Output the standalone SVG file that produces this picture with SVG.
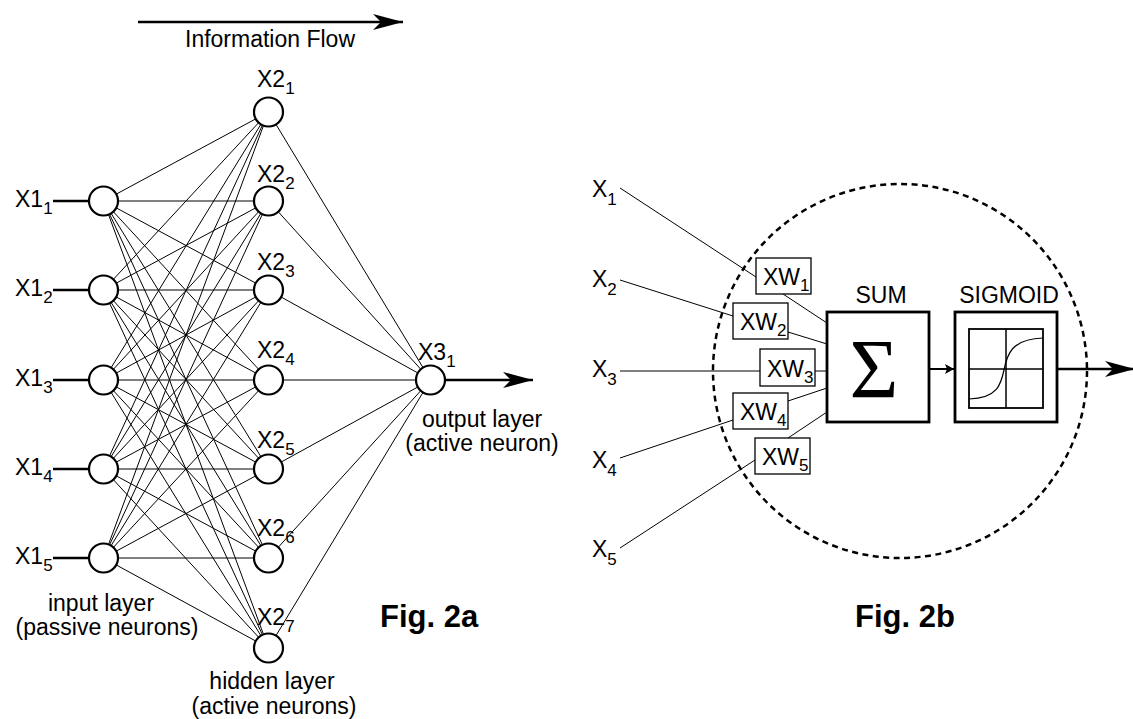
<svg xmlns="http://www.w3.org/2000/svg" width="1133" height="719" viewBox="0 0 1133 719">
<style>
text{font-family:"Liberation Sans",Arial,sans-serif;fill:#000;font-size:23px}
.sub{font-size:17px}
.fig{font-size:31px;font-weight:bold}
.nd{fill:#fff;stroke:#000;stroke-width:2.2}
.w{stroke:#000;stroke-width:1;fill:none}
.thick{stroke:#000;stroke-width:2.5;fill:none}
.box{fill:#fff;stroke:#000;stroke-width:1.3}
.big{fill:#fff;stroke:#000;stroke-width:2.8}
</style>
<defs>
<marker id="ah" markerUnits="userSpaceOnUse" markerWidth="32" markerHeight="18" refX="30" refY="8" orient="auto" viewBox="0 0 32 18">
<path d="M0,0 L30,8 L0,16 L8,8 Z" fill="#000"/>
</marker>
<marker id="ahs" markerUnits="userSpaceOnUse" markerWidth="12" markerHeight="12" refX="9" refY="5" orient="auto" viewBox="0 0 12 12">
<path d="M0,0 L9,5 L0,10 L2,5 Z" fill="#000"/>
</marker>
</defs>
<rect width="1133" height="719" fill="#fff"/>

<g id="info-flow">
<line x1="138" y1="22" x2="403" y2="22" class="thick" marker-end="url(#ah)"/>
<text x="185" y="47">Information Flow</text>
</g>

<g id="connectors-2a" class="w">
<g id="in-hid">
<line x1="103.5" y1="201" x2="268.5" y2="112"/><line x1="103.5" y1="201" x2="268.5" y2="201"/><line x1="103.5" y1="201" x2="268.5" y2="290"/><line x1="103.5" y1="201" x2="268.5" y2="380"/><line x1="103.5" y1="201" x2="268.5" y2="469"/><line x1="103.5" y1="201" x2="268.5" y2="558"/><line x1="103.5" y1="201" x2="268.5" y2="648"/>
<line x1="103.5" y1="290" x2="268.5" y2="112"/><line x1="103.5" y1="290" x2="268.5" y2="201"/><line x1="103.5" y1="290" x2="268.5" y2="290"/><line x1="103.5" y1="290" x2="268.5" y2="380"/><line x1="103.5" y1="290" x2="268.5" y2="469"/><line x1="103.5" y1="290" x2="268.5" y2="558"/><line x1="103.5" y1="290" x2="268.5" y2="648"/>
<line x1="103.5" y1="380" x2="268.5" y2="112"/><line x1="103.5" y1="380" x2="268.5" y2="201"/><line x1="103.5" y1="380" x2="268.5" y2="290"/><line x1="103.5" y1="380" x2="268.5" y2="380"/><line x1="103.5" y1="380" x2="268.5" y2="469"/><line x1="103.5" y1="380" x2="268.5" y2="558"/><line x1="103.5" y1="380" x2="268.5" y2="648"/>
<line x1="103.5" y1="469" x2="268.5" y2="112"/><line x1="103.5" y1="469" x2="268.5" y2="201"/><line x1="103.5" y1="469" x2="268.5" y2="290"/><line x1="103.5" y1="469" x2="268.5" y2="380"/><line x1="103.5" y1="469" x2="268.5" y2="469"/><line x1="103.5" y1="469" x2="268.5" y2="558"/><line x1="103.5" y1="469" x2="268.5" y2="648"/>
<line x1="103.5" y1="558" x2="268.5" y2="112"/><line x1="103.5" y1="558" x2="268.5" y2="201"/><line x1="103.5" y1="558" x2="268.5" y2="290"/><line x1="103.5" y1="558" x2="268.5" y2="380"/><line x1="103.5" y1="558" x2="268.5" y2="469"/><line x1="103.5" y1="558" x2="268.5" y2="558"/><line x1="103.5" y1="558" x2="268.5" y2="648"/>
</g>
<g id="hid-out">
<line x1="268.5" y1="112" x2="430.5" y2="380"/><line x1="268.5" y1="201" x2="430.5" y2="380"/><line x1="268.5" y1="290" x2="430.5" y2="380"/><line x1="268.5" y1="380" x2="430.5" y2="380"/><line x1="268.5" y1="469" x2="430.5" y2="380"/><line x1="268.5" y1="558" x2="430.5" y2="380"/><line x1="268.5" y1="648" x2="430.5" y2="380"/>
</g>
<g id="in-lines" class="thick">
<line x1="53" y1="201" x2="90" y2="201"/><line x1="53" y1="290" x2="90" y2="290"/><line x1="53" y1="380" x2="90" y2="380"/><line x1="53" y1="469" x2="90" y2="469"/><line x1="53" y1="558" x2="90" y2="558"/>
</g>
<line x1="445" y1="380" x2="533" y2="380" class="thick" marker-end="url(#ah)"/>
</g>

<g id="x1_1"><circle cx="103.5" cy="201" r="14.5" class="nd"/><text x="15" y="207">X1<tspan class="sub" dy="7">1</tspan></text></g>
<g id="x1_2"><circle cx="103.5" cy="290" r="14.5" class="nd"/><text x="15" y="296">X1<tspan class="sub" dy="7">2</tspan></text></g>
<g id="x1_3"><circle cx="103.5" cy="380" r="14.5" class="nd"/><text x="15" y="386">X1<tspan class="sub" dy="7">3</tspan></text></g>
<g id="x1_4"><circle cx="103.5" cy="469" r="14.5" class="nd"/><text x="15" y="475">X1<tspan class="sub" dy="7">4</tspan></text></g>
<g id="x1_5"><circle cx="103.5" cy="558" r="14.5" class="nd"/><text x="15" y="564">X1<tspan class="sub" dy="7">5</tspan></text></g>

<g id="x2_1"><circle cx="268.5" cy="112" r="14.5" class="nd"/><text x="257" y="87">X2<tspan class="sub" dy="7">1</tspan></text></g>
<g id="x2_2"><circle cx="268.5" cy="201" r="14.5" class="nd"/><text x="257" y="182">X2<tspan class="sub" dy="7">2</tspan></text></g>
<g id="x2_3"><circle cx="268.5" cy="290" r="14.5" class="nd"/><text x="257" y="270">X2<tspan class="sub" dy="7">3</tspan></text></g>
<g id="x2_4"><circle cx="268.5" cy="380" r="14.5" class="nd"/><text x="257" y="358">X2<tspan class="sub" dy="7">4</tspan></text></g>
<g id="x2_5"><circle cx="268.5" cy="469" r="14.5" class="nd"/><text x="257" y="448">X2<tspan class="sub" dy="7">5</tspan></text></g>
<g id="x2_6"><circle cx="268.5" cy="558" r="14.5" class="nd"/><text x="257" y="536">X2<tspan class="sub" dy="7">6</tspan></text></g>
<g id="x2_7"><circle cx="268.5" cy="648" r="14.5" class="nd"/><text x="257" y="625">X2<tspan class="sub" dy="7">7</tspan></text></g>

<g id="x3_1"><circle cx="430.5" cy="380" r="14.5" class="nd"/><text x="418" y="360">X3<tspan class="sub" dy="7">1</tspan></text></g>

<g id="label-input"><text x="101" y="611" text-anchor="middle">input layer</text><text x="107" y="635" text-anchor="middle">(passive neurons)</text></g>
<g id="label-hidden"><text x="272" y="689" text-anchor="middle">hidden layer</text><text x="274" y="714" text-anchor="middle">(active neurons)</text></g>
<g id="label-output"><text x="482" y="427" text-anchor="middle">output layer</text><text x="482" y="451" text-anchor="middle">(active neuron)</text></g>
<text x="380" y="627" class="fig">Fig. 2a</text>

<circle id="neuron-boundary" cx="900" cy="371" r="187" fill="none" stroke="#000" stroke-width="2.5" stroke-dasharray="6,4.5"/>

<g id="connectors-2b" class="w">
<line x1="620" y1="188" x2="756" y2="277"/>
<line x1="620" y1="280" x2="733" y2="316"/>
<line x1="620" y1="371" x2="760" y2="371"/>
<line x1="620" y1="458" x2="733" y2="420"/>
<line x1="620" y1="548" x2="755" y2="460"/>
<line x1="783" y1="294" x2="827" y2="323"/>
<line x1="788" y1="332" x2="827" y2="344"/>
<line x1="815" y1="371" x2="827" y2="371"/>
<line x1="788" y1="401" x2="827" y2="388"/>
<line x1="788" y1="438" x2="827" y2="412"/>
<line x1="929" y1="369" x2="954" y2="369" stroke-width="2" marker-end="url(#ahs)"/>
<line x1="1057" y1="369" x2="1135" y2="369" stroke-width="2.5" marker-end="url(#ah)"/>
</g>

<g id="x_1"><text x="592" y="197">X<tspan class="sub" dy="8">1</tspan></text></g>
<g id="x_2"><text x="592" y="287">X<tspan class="sub" dy="8">2</tspan></text></g>
<g id="x_3"><text x="592" y="377">X<tspan class="sub" dy="8">3</tspan></text></g>
<g id="x_4"><text x="592" y="468">X<tspan class="sub" dy="8">4</tspan></text></g>
<g id="x_5"><text x="592" y="557">X<tspan class="sub" dy="8">5</tspan></text></g>

<g id="xw_1"><rect x="756" y="258" width="55" height="36" class="box"/><text x="763" y="285">XW<tspan class="sub" dy="6">1</tspan></text></g>
<g id="xw_2"><rect x="733" y="303" width="55" height="36" class="box"/><text x="740" y="330">XW<tspan class="sub" dy="6">2</tspan></text></g>
<g id="xw_3"><rect x="760" y="349" width="55" height="37" class="box"/><text x="767" y="377">XW<tspan class="sub" dy="6">3</tspan></text></g>
<g id="xw_4"><rect x="733" y="393" width="55" height="36" class="box"/><text x="740" y="420">XW<tspan class="sub" dy="6">4</tspan></text></g>
<g id="xw_5"><rect x="755" y="438" width="55" height="36" class="box"/><text x="762" y="465">XW<tspan class="sub" dy="6">5</tspan></text></g>

<g id="sum">
<rect x="827" y="312" width="102" height="110" class="big"/>
<text x="874" y="398" text-anchor="middle" style="font-family:'Liberation Serif','Times New Roman',serif;font-size:84px">Σ</text>
<text x="881" y="303" text-anchor="middle">SUM</text>
</g>

<g id="sigmoid">
<rect x="955" y="312" width="102" height="110" class="big"/>
<rect x="969" y="329" width="74" height="79" fill="none" stroke="#000" stroke-width="1.8"/>
<line x1="1006" y1="329" x2="1006" y2="408" stroke="#000" stroke-width="1.5"/>
<line x1="969" y1="369" x2="1043" y2="369" stroke="#000" stroke-width="1.5"/>
<path d="M969,399 C998,398 1001,384 1004,370 C1007,355 1011,339 1043,338" fill="none" stroke="#000" stroke-width="1.2"/>
<text x="1009" y="303" text-anchor="middle">SIGMOID</text>
</g>

<text x="855" y="627" class="fig">Fig. 2b</text>
</svg>
